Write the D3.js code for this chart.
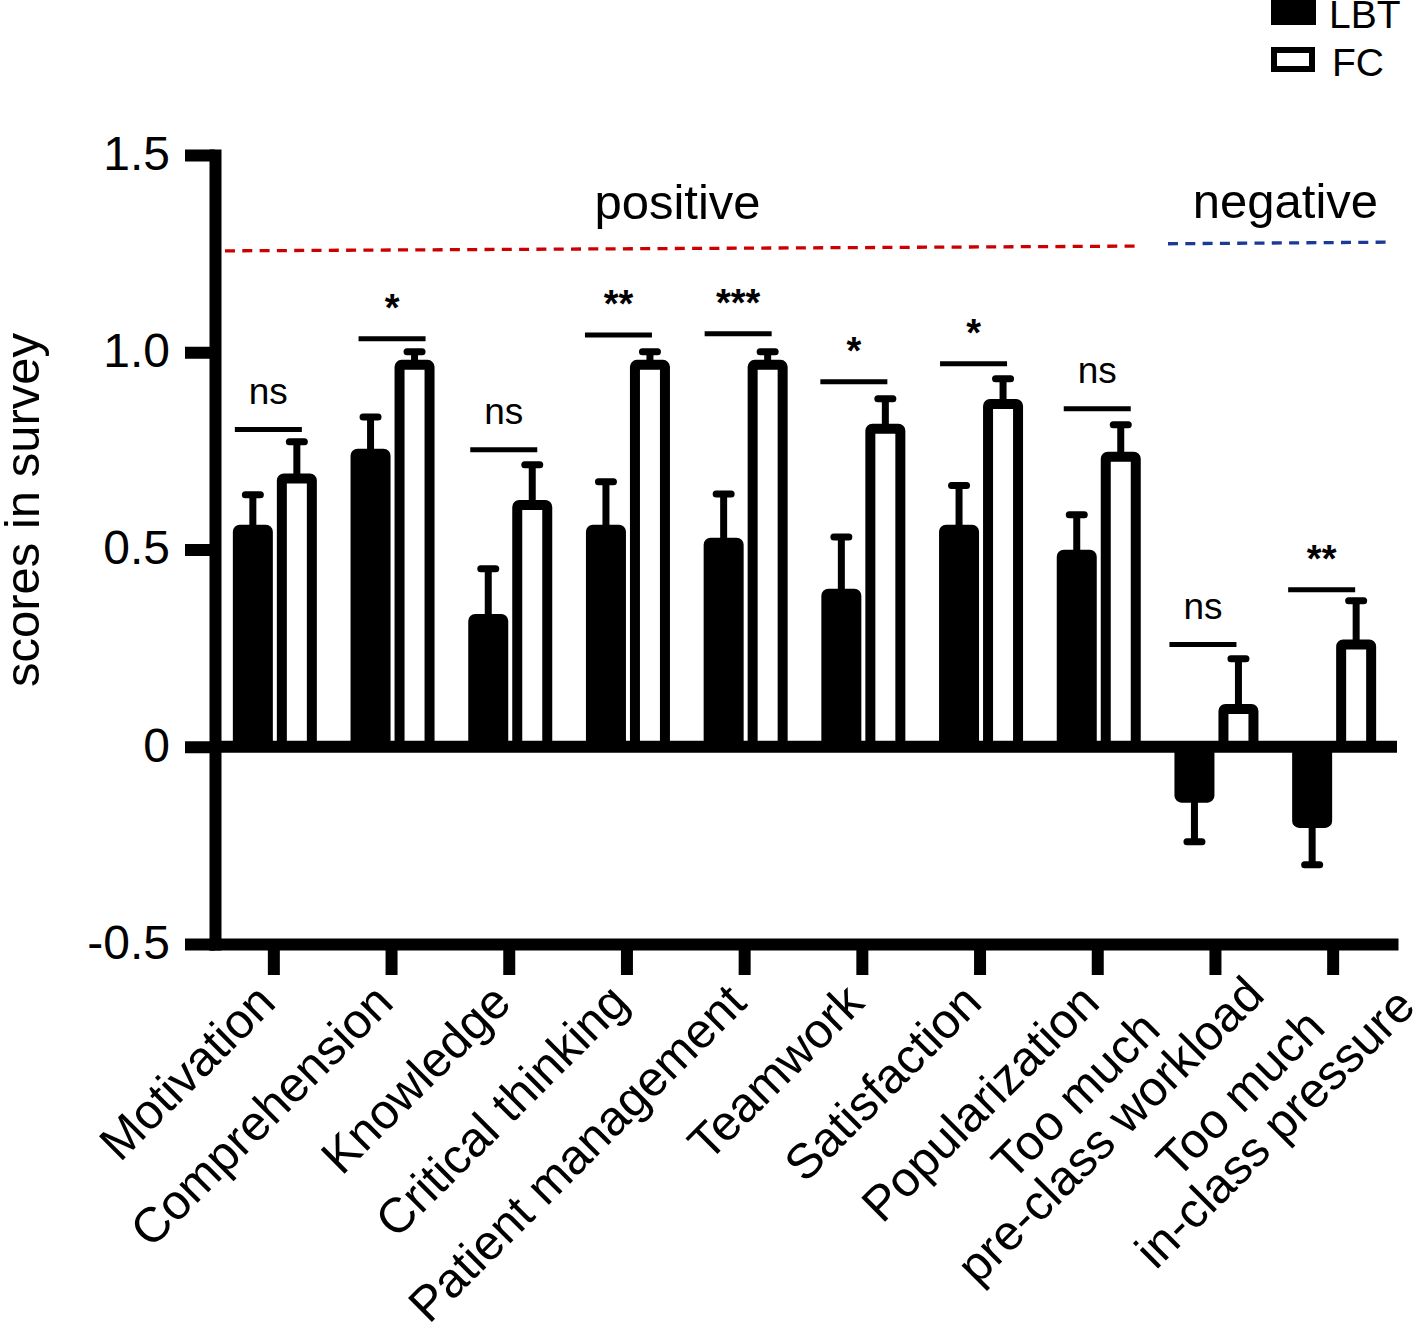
<!DOCTYPE html>
<html><head><meta charset="utf-8">
<script src="https://cdn.jsdelivr.net/npm/d3@7/dist/d3.min.js"></script>
<style>
body{margin:0;background:#fff}
svg{display:block}
text{font-family:"Liberation Sans",Arial,Helvetica,sans-serif;fill:#000}
</style>
</head><body>
<svg id="c" width="1418" height="1329"></svg>
<script>
// ---------- data ----------
const categories = ["Motivation","Comprehension","Knowledge","Critical thinking","Patient management","Teamwork","Satisfaction","Popularization","Too much pre-class workload","Too much in-class pressure"];
const categoryLines = [["Motivation"],["Comprehension"],["Knowledge"],["Critical thinking"],["Patient management"],["Teamwork"],["Satisfaction"],["Popularization"],["Too much","pre-class workload"],["Too much","in-class pressure"]];
const seriesNames = ["LBT","FC"];
const lbtMean = [0.55, 0.743, 0.324, 0.55, 0.517, 0.388, 0.55, 0.487, -0.129, -0.193];
const lbtErr  = [0.089, 0.093, 0.127, 0.122, 0.124, 0.144, 0.112, 0.101, 0.112, 0.106];
const fcMean  = [0.68, 0.968, 0.613, 0.968, 0.968, 0.806, 0.869, 0.735, 0.096, 0.259];
const fcErr   = [0.093, 0.033, 0.102, 0.033, 0.033, 0.076, 0.064, 0.081, 0.127, 0.111];
const sigLabels  = ["ns","*","ns","**","***","*","*","ns","ns","**"];
const sigHeights = [0.804, 1.034, 0.753, 1.044, 1.047, 0.925, 0.971, 0.857, 0.259, 0.398];
const yTicks = [-0.5, 0, 0.5, 1, 1.5];
const yTickLabels = ["-0.5","0","0.5","1.0","1.5"];
const yTitle = "scores in survey";
const groupLabels = ["positive","negative"];
const groupLineLevels = [[1.257,1.269],[1.275,1.279]];

// ---------- layout ----------
const svg = d3.select("#c");
const FONT = '"Liberation Sans",Arial,Helvetica,sans-serif';
const x = d3.scaleBand().domain(categories).range([215,1392]).padding(0);
const y = d3.scaleLinear().domain([-0.5,1.5]).range([944,155]);
const cx = c => x(c) + x.bandwidth()/2;

const series = [
  {name:seriesNames[0], mean:lbtMean, err:lbtErr, fill:"#000", off:-41},
  {name:seriesNames[1], mean:fcMean,  err:fcErr,  fill:"#fff", off:3}
];
const SW = 10, OUTER_W = 40;

// bars
series.forEach(s => {
  const g = svg.append("g");
  categories.forEach((c,i) => {
    const v = s.mean[i];
    const left = cx(c) + s.off;
    const top = y(Math.max(v,0)), bot = y(Math.min(v,0));
    g.append("rect")
      .attr("x", left + SW/2).attr("width", OUTER_W - SW)
      .attr("y", top).attr("height", bot - top)
      .attr("fill", s.fill).attr("stroke","#000").attr("stroke-width",SW)
      .attr("stroke-linejoin","round").attr("rx",2);
    const sign = v >= 0 ? 1 : -1;
    const e = v + sign*s.err[i];
    const ex = left + OUTER_W/2;
    g.append("line").attr("x1",ex).attr("x2",ex).attr("y1",y(v)).attr("y2",y(e))
      .attr("stroke","#000").attr("stroke-width",7);
    g.append("line").attr("x1",ex-7.5).attr("x2",ex+7.5).attr("y1",y(e)).attr("y2",y(e))
      .attr("stroke","#000").attr("stroke-width",7).attr("stroke-linecap","round");
  });
});

// zero line
svg.append("line").attr("x1",215).attr("x2",x.range()[1]+5).attr("y1",y(0)).attr("y2",y(0))
  .attr("stroke","#000").attr("stroke-width",12);

// y axis
const gy = svg.append("g").attr("transform","translate(215,0)")
  .call(d3.axisLeft(y).tickValues(yTicks).tickFormat((d,i)=>yTickLabels[i]).tickSize(30).tickSizeOuter(0).tickPadding(15));
gy.attr("font-family",FONT).attr("font-size",48);
gy.select(".domain").attr("stroke","#000").attr("stroke-width",12).attr("stroke-linecap","square");
gy.selectAll(".tick line").attr("stroke","#000").attr("stroke-width",12);
gy.selectAll(".tick text").attr("fill","#000").attr("dy","0.3em");

// x axis
const gx = svg.append("g").attr("transform","translate(0,944)")
  .call(d3.axisBottom(x).tickSize(31).tickSizeOuter(0).tickFormat(""));
gx.select(".domain").attr("stroke","#000").attr("stroke-width",12).attr("stroke-linecap","square");
gx.selectAll(".tick line").attr("stroke","#000").attr("stroke-width",12);
gx.selectAll(".tick text").remove();

// category labels
const LABEL_FS = 49, LH = 49;
const U = [Math.SQRT1_2, -Math.SQRT1_2], D = [Math.SQRT1_2, Math.SQRT1_2];
const multiAnchor = {8:[-53,1032], 9:[-6,1030]};
categories.forEach((c,i) => {
  const lines = categoryLines[i];
  if (lines.length === 1) {
    svg.append("text").attr("transform",`translate(${cx(c)+4},1005) rotate(-45)`)
      .attr("text-anchor","end").attr("font-size",LABEL_FS).text(lines[0]);
  } else {
    const ts = lines.map(t => svg.append("text").attr("font-size",LABEL_FS).attr("text-anchor","end").text(t));
    const ws = ts.map(t => t.node().getComputedTextLength());
    const a = multiAnchor[i];
    const p1 = [cx(c)+a[0], a[1]];
    ts.forEach((t,k) => {
      const shift = (ws[k]-ws[0])/2;
      const px = p1[0] + U[0]*shift + D[0]*LH*k;
      const py = p1[1] + U[1]*shift + D[1]*LH*k;
      t.attr("transform",`translate(${px},${py}) rotate(-45)`);
    });
  }
});

// significance brackets
const sigShift = [1, 7, 1, -2, 0, -2, 0, 6, -6, -5];
categories.forEach((c,i) => {
  const yy = y(sigHeights[i]);
  const x0 = cx(c) - 40 + sigShift[i], x1 = x0 + 67;
  svg.append("line").attr("x1",x0).attr("x2",x1).attr("y1",yy).attr("y2",yy)
    .attr("stroke","#000").attr("stroke-width",5);
  const star = sigLabels[i] !== "ns";
  svg.append("text").attr("x",(x0+x1)/2).attr("y", yy - (star ? 18 : 26))
    .attr("text-anchor","middle").attr("font-size", star ? 38 : 37)
    .attr("font-weight", star ? "bold" : "normal").text(sigLabels[i]);
});

// group dashed lines & labels
svg.append("line").attr("x1",225).attr("x2",1135)
  .attr("y1",y(groupLineLevels[0][0])).attr("y2",y(groupLineLevels[0][1]))
  .attr("stroke","#cc0000").attr("stroke-width",3.3).attr("stroke-dasharray","10,7.3");
svg.append("line").attr("x1",1168).attr("x2",1387)
  .attr("y1",y(groupLineLevels[1][0])).attr("y2",y(groupLineLevels[1][1]))
  .attr("stroke","#1a3a96").attr("stroke-width",3.3).attr("stroke-dasharray","10,7.3");
svg.append("text").attr("x",677.5).attr("y",219).attr("text-anchor","middle").attr("font-size",49).text(groupLabels[0]);
svg.append("text").attr("x",1285.5).attr("y",218).attr("text-anchor","middle").attr("font-size",49).text(groupLabels[1]);

// y title
svg.append("text").attr("transform","translate(39,510) rotate(-90)")
  .attr("text-anchor","middle").attr("font-size",49).text(yTitle);

// legend
svg.append("rect").attr("x",1271).attr("y",-5).attr("width",45).attr("height",30).attr("fill","#000");
svg.append("rect").attr("x",1274).attr("y",50).attr("width",38).attr("height",19)
  .attr("fill","#fff").attr("stroke","#000").attr("stroke-width",6);
svg.append("text").attr("x",1329).attr("y",28).attr("font-size",39).text(seriesNames[0]);
svg.append("text").attr("x",1332).attr("y",76).attr("font-size",39).text(seriesNames[1]);
</script>
</body></html>
